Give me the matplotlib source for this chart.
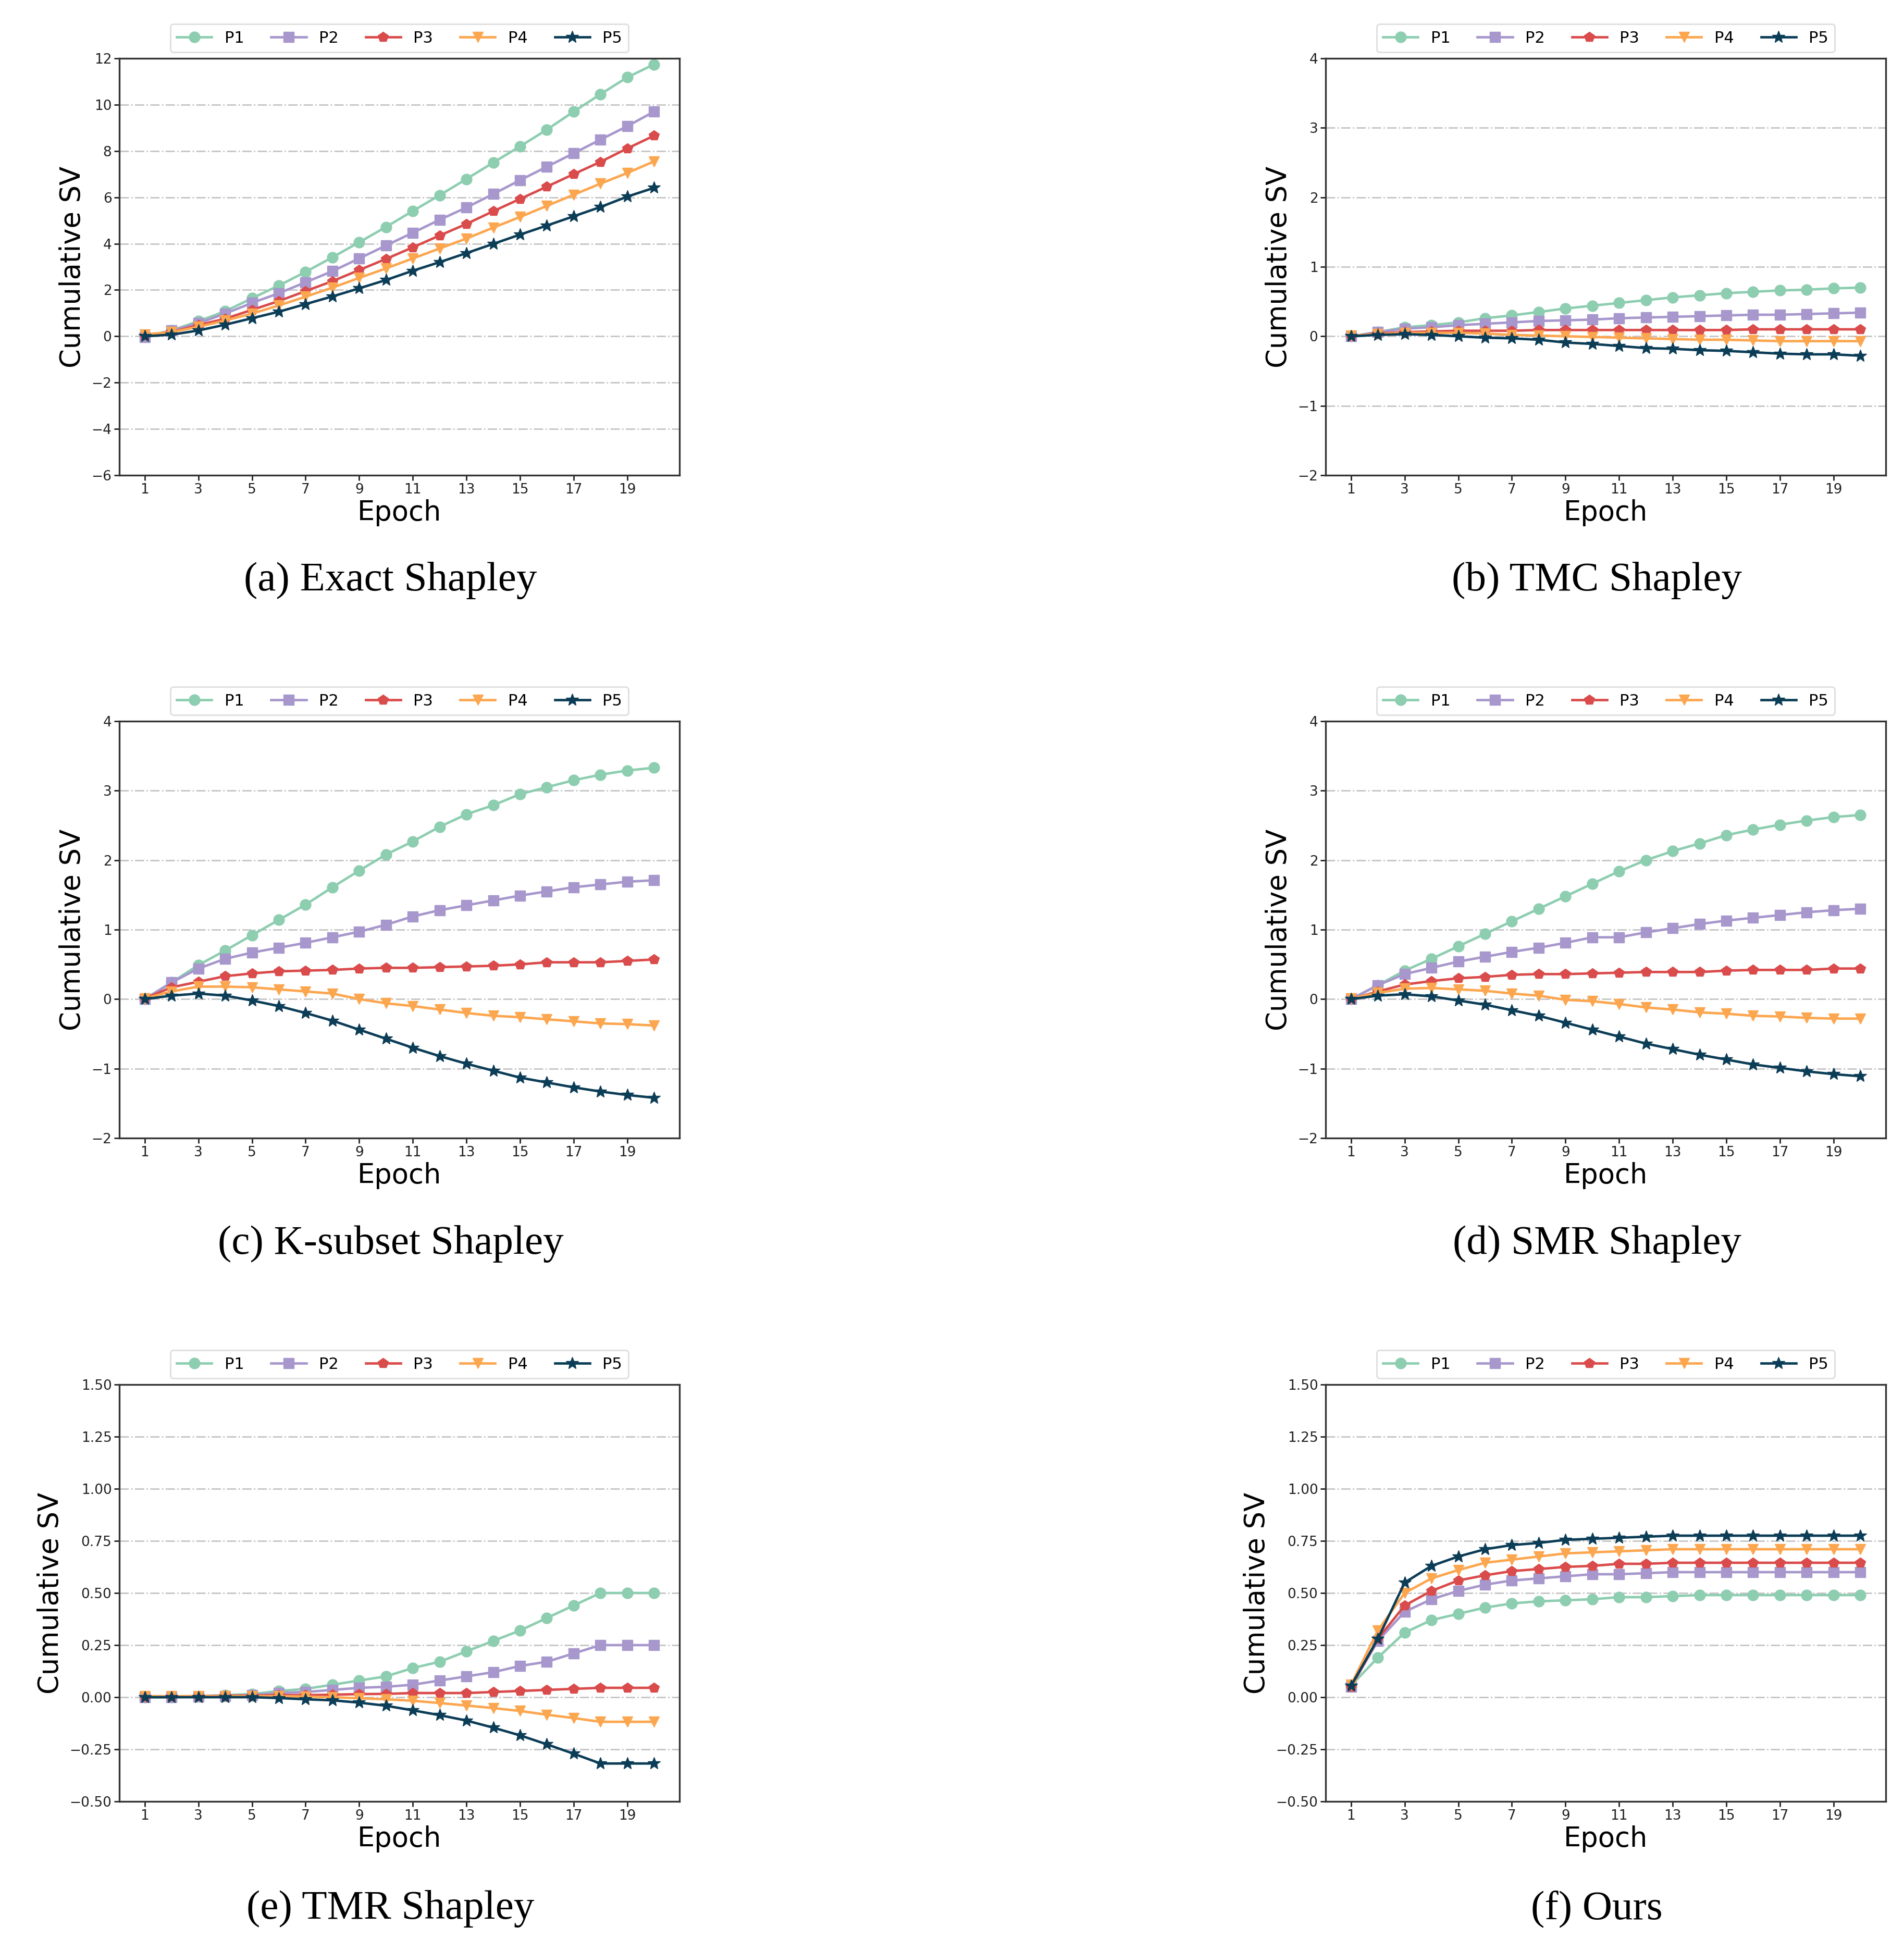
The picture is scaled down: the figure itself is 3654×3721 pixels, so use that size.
import numpy as np
import matplotlib.pyplot as plt

# Epocas
epocas = list(range(1, 21))

# (a) Exact Shapley
exact_p1 = [0.0, 0.25, 0.65, 1.08, 1.64, 2.19, 2.78, 3.41, 4.06, 4.72, 5.41, 6.09, 6.79, 7.5, 8.2, 8.92, 9.7, 10.45, 11.18, 11.74]
exact_p2 = [-0.03, 0.25, 0.56, 0.98, 1.44, 1.86, 2.33, 2.81, 3.36, 3.92, 4.47, 5.03, 5.56, 6.14, 6.74, 7.32, 7.9, 8.49, 9.07, 9.7]
exact_p3 = [0.03, 0.18, 0.48, 0.76, 1.14, 1.52, 1.95, 2.38, 2.86, 3.34, 3.84, 4.35, 4.85, 5.4, 5.93, 6.46, 7.0, 7.53, 8.11, 8.66]
exact_p4 = [0.08, 0.18, 0.41, 0.68, 0.98, 1.33, 1.71, 2.1, 2.52, 2.93, 3.36, 3.79, 4.22, 4.69, 5.15, 5.63, 6.11, 6.59, 7.05, 7.55]
exact_p5 = [0.0, 0.07, 0.25, 0.5, 0.78, 1.06, 1.39, 1.72, 2.07, 2.43, 2.83, 3.2, 3.59, 3.99, 4.39, 4.78, 5.18, 5.58, 6.03, 6.41]

# (b) TMC Shapley
tmc_p1 = [0.0, 0.06, 0.13, 0.16, 0.2, 0.26, 0.3, 0.35, 0.4, 0.44, 0.48, 0.52, 0.56, 0.59, 0.62, 0.64, 0.66, 0.67, 0.69, 0.7]
tmc_p2 = [0.0, 0.06, 0.11, 0.13, 0.16, 0.18, 0.2, 0.22, 0.23, 0.24, 0.26, 0.27, 0.28, 0.29, 0.3, 0.31, 0.31, 0.32, 0.33, 0.34]
tmc_p3 = [0.0, 0.04, 0.06, 0.07, 0.08, 0.08, 0.08, 0.09, 0.09, 0.09, 0.09, 0.09, 0.09, 0.09, 0.09, 0.1, 0.1, 0.1, 0.1, 0.1]
tmc_p4 = [0.01, 0.03, 0.05, 0.05, 0.05, 0.04, 0.02, 0.01, 0.0, -0.01, -0.02, -0.03, -0.04, -0.05, -0.05, -0.06, -0.07, -0.07, -0.07, -0.07]
tmc_p5 = [0.0, 0.02, 0.03, 0.02, 0.0, -0.02, -0.03, -0.05, -0.09, -0.11, -0.14, -0.17, -0.18, -0.2, -0.21, -0.23, -0.25, -0.26, -0.26, -0.28]

# (c) K-subset Shapley
ksub_p1 = [0.0, 0.24, 0.49, 0.7, 0.92, 1.14, 1.36, 1.61, 1.85, 2.08, 2.27, 2.48, 2.66, 2.79, 2.95, 3.05, 3.15, 3.23, 3.29, 3.33]
ksub_p2 = [0.0, 0.24, 0.44, 0.58, 0.67, 0.74, 0.81, 0.89, 0.97, 1.07, 1.19, 1.28, 1.35, 1.42, 1.49, 1.55, 1.61, 1.65, 1.69, 1.71]
ksub_p3 = [0.01, 0.17, 0.25, 0.33, 0.37, 0.4, 0.41, 0.42, 0.44, 0.45, 0.45, 0.46, 0.47, 0.48, 0.5, 0.53, 0.53, 0.53, 0.55, 0.57]
ksub_p4 = [0.01, 0.11, 0.18, 0.18, 0.17, 0.14, 0.11, 0.08, 0.0, -0.06, -0.1, -0.15, -0.2, -0.24, -0.26, -0.29, -0.32, -0.35, -0.36, -0.38]
ksub_p5 = [0.0, 0.05, 0.08, 0.05, -0.02, -0.1, -0.2, -0.31, -0.44, -0.57, -0.7, -0.82, -0.93, -1.03, -1.13, -1.2, -1.27, -1.33, -1.38, -1.42]

# (d) SMR Shapley
smr_p1 = [0.0, 0.2, 0.41, 0.58, 0.76, 0.94, 1.12, 1.3, 1.48, 1.66, 1.84, 2.0, 2.13, 2.24, 2.36, 2.44, 2.51, 2.57, 2.62, 2.65]
smr_p2 = [0.0, 0.2, 0.36, 0.45, 0.54, 0.61, 0.68, 0.74, 0.81, 0.89, 0.89, 0.96, 1.02, 1.08, 1.13, 1.17, 1.21, 1.25, 1.28, 1.3]
smr_p3 = [0.0, 0.11, 0.21, 0.26, 0.3, 0.32, 0.35, 0.36, 0.36, 0.37, 0.38, 0.39, 0.39, 0.39, 0.41, 0.42, 0.42, 0.42, 0.44, 0.44]
smr_p4 = [0.01, 0.09, 0.15, 0.16, 0.14, 0.12, 0.08, 0.05, -0.01, -0.03, -0.07, -0.12, -0.15, -0.19, -0.21, -0.24, -0.25, -0.27, -0.28, -0.28]
smr_p5 = [0.0, 0.05, 0.07, 0.04, -0.02, -0.08, -0.16, -0.24, -0.34, -0.44, -0.54, -0.64, -0.72, -0.8, -0.87, -0.94, -0.99, -1.04, -1.08, -1.11]

# (e) TMR Shapley
tmr_p1 = [0.0, 0.0, 0.005, 0.01, 0.015, 0.03, 0.04, 0.06, 0.08, 0.1, 0.14, 0.17, 0.22, 0.27, 0.32, 0.38, 0.44, 0.5, 0.5, 0.5]
tmr_p2 = [0.0, 0.0, 0.003, 0.006, 0.01, 0.02, 0.025, 0.035, 0.045, 0.05, 0.06, 0.08, 0.1, 0.12, 0.15, 0.17, 0.21, 0.25, 0.25, 0.25]
tmr_p3 = [0.0, 0.003, 0.005, 0.007, 0.008, 0.01, 0.01, 0.012, 0.015, 0.016, 0.02, 0.02, 0.02, 0.025, 0.03, 0.035, 0.04, 0.045, 0.045, 0.045]
tmr_p4 = [0.005, 0.005, 0.005, 0.005, 0.005, 0.005, 0.003, 0.0, -0.005, -0.01, -0.017, -0.028, -0.04, -0.052, -0.066, -0.084, -0.1, -0.118, -0.118, -0.118]
tmr_p5 = [0.0, 0.0, 0.0, 0.0, 0.0, -0.004, -0.01, -0.015, -0.026, -0.041, -0.063, -0.086, -0.112, -0.146, -0.183, -0.226, -0.271, -0.318, -0.318, -0.318]

# (f) Ours
ours_p1 = [0.056, 0.19, 0.31, 0.37, 0.4, 0.43, 0.45, 0.46, 0.465, 0.47, 0.48, 0.48, 0.485, 0.49, 0.49, 0.49, 0.49, 0.49, 0.49, 0.49]
ours_p2 = [0.05, 0.27, 0.41, 0.47, 0.51, 0.54, 0.56, 0.57, 0.58, 0.59, 0.59, 0.595, 0.6, 0.6, 0.6, 0.6, 0.6, 0.6, 0.6, 0.6]
ours_p3 = [0.05, 0.28, 0.44, 0.51, 0.56, 0.585, 0.605, 0.615, 0.625, 0.63, 0.64, 0.64, 0.645, 0.645, 0.645, 0.645, 0.645, 0.645, 0.645, 0.645]
ours_p4 = [0.06, 0.32, 0.5, 0.57, 0.61, 0.645, 0.66, 0.675, 0.69, 0.695, 0.7, 0.705, 0.71, 0.71, 0.71, 0.71, 0.71, 0.71, 0.71, 0.71]
ours_p5 = [0.055, 0.28, 0.55, 0.63, 0.675, 0.71, 0.73, 0.74, 0.755, 0.76, 0.765, 0.77, 0.775, 0.775, 0.775, 0.775, 0.775, 0.775, 0.775, 0.775]

nombres = ['P1', 'P2', 'P3', 'P4', 'P5']
colores = ['#8dcdb0', '#a797cc', '#da4b4b', '#fca64f', '#0c3d57']
marcadores = ['o', 's', 'p', 'v', '*']

titulos = ['(a) Exact Shapley', '(b) TMC Shapley', '(c) K-subset Shapley',
           '(d) SMR Shapley', '(e) TMR Shapley', '(f) Ours']
series = [
    [exact_p1, exact_p2, exact_p3, exact_p4, exact_p5],
    [tmc_p1, tmc_p2, tmc_p3, tmc_p4, tmc_p5],
    [ksub_p1, ksub_p2, ksub_p3, ksub_p4, ksub_p5],
    [smr_p1, smr_p2, smr_p3, smr_p4, smr_p5],
    [tmr_p1, tmr_p2, tmr_p3, tmr_p4, tmr_p5],
    [ours_p1, ours_p2, ours_p3, ours_p4, ours_p5],
]
limites_y = [(-6, 12), (-2, 4), (-2, 4), (-2, 4), (-0.5, 1.5), (-0.5, 1.5)]
ticks_y = [np.arange(-6, 13, 2), np.arange(-2, 5, 1), np.arange(-2, 5, 1),
           np.arange(-2, 5, 1), np.arange(-0.5, 1.51, 0.25), np.arange(-0.5, 1.51, 0.25)]

W, H = 3655, 3721
fig = plt.figure(figsize=(W / 100, H / 100), dpi=100)

izq = [229, 2544]
abajo = [912, 2184, 3457]
ancho, alto = 1075, 800
y_titulo = [1114, 2387, 3663]

for i in range(6):
    fila, col = i // 2, i % 2
    ax = fig.add_axes([izq[col] / W, 1 - abajo[fila] / H, ancho / W, alto / H])

    for datos, nombre, color, marcador in zip(series[i], nombres, colores, marcadores):
        ms = 18 if marcador == '*' else 15
        ax.plot(epocas, datos, color=color, marker=marcador, markersize=ms,
                linewidth=3.4, label=nombre)

    ax.set_ylim(*limites_y[i])
    ax.set_yticks(ticks_y[i])
    ax.set_xticks(range(1, 20, 2))
    ax.set_axisbelow(True)
    ax.yaxis.grid(True, linestyle='-.', color='#c4c4c4', linewidth=2)
    ax.tick_params(labelsize=19, length=7, width=2, colors='#222222')
    for s in ax.spines.values():
        s.set_linewidth(2.4)
        s.set_color('#333333')
    ax.set_xlabel('Epoch', fontsize=38, labelpad=4)
    ax.set_ylabel('Cumulative SV', fontsize=38, labelpad=8)

    leg = ax.legend(loc='lower center', bbox_to_anchor=(0.5, 1.0), ncol=5,
                    fontsize=22, handlelength=2.2, handletextpad=0.8,
                    columnspacing=1.7, borderaxespad=0.4, frameon=True)
    leg.get_frame().set_edgecolor('#d6d6d6')
    leg.get_frame().set_linewidth(2)

    x_titulo = (izq[col] + ancho / 2 - 17) / W
    fig.text(x_titulo, 1 - y_titulo[fila] / H, titulos[i], fontsize=57,
             family='Liberation Serif', ha='center', va='center')

plt.savefig('out.png', dpi=100)
plt.close()
